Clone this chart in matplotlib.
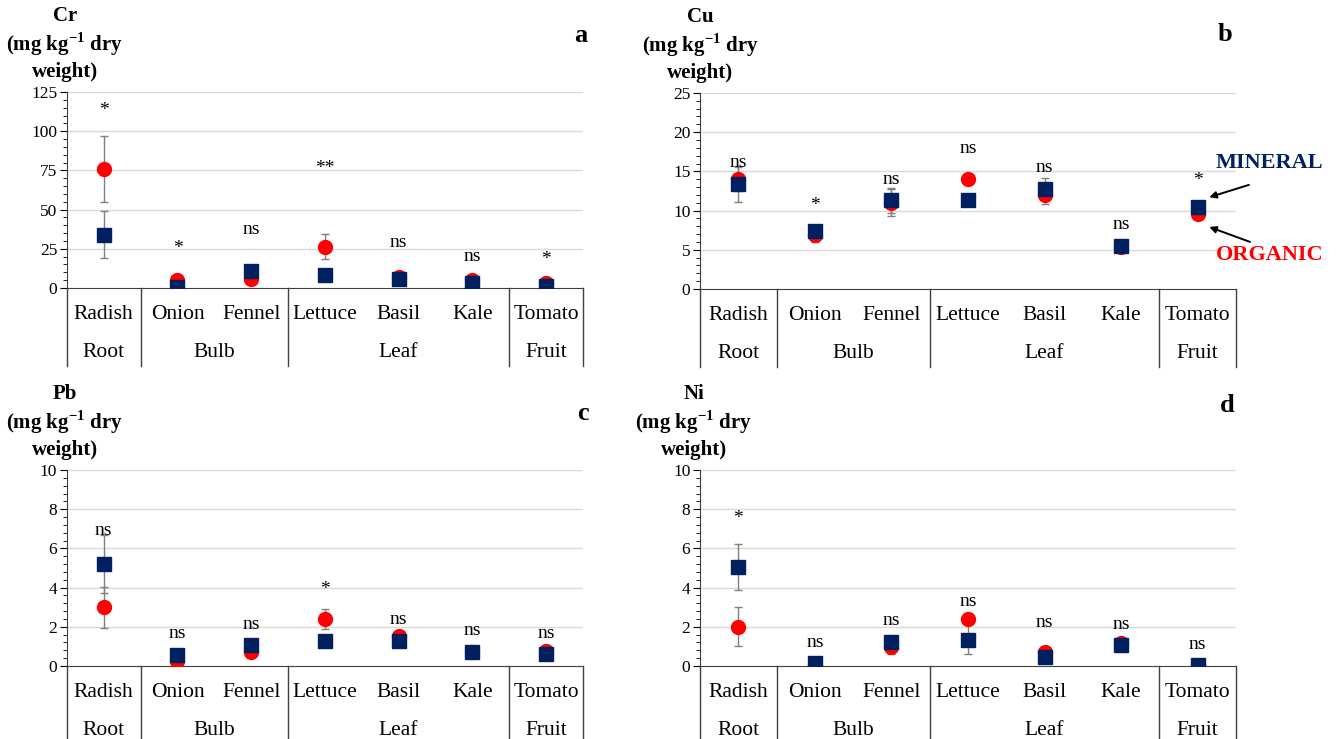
import numpy as np
import matplotlib.pyplot as plt
from matplotlib import transforms
from matplotlib.ticker import MultipleLocator

plt.rcParams['font.family'] = ['Liberation Serif', 'DejaVu Serif']
plt.rcParams['mathtext.fontset'] = 'custom'
plt.rcParams['mathtext.rm'] = 'Liberation Serif'
plt.rcParams['mathtext.bf'] = 'Liberation Serif:bold'

crops = ["Radish", "Onion", "Fennel", "Lettuce", "Basil", "Kale", "Tomato"]
groups = ["Root", "Bulb", "Leaf", "Fruit"]
group_sizes = [1, 2, 3, 1]

# Cr
cr_org = [76, 5, 6, 26.4, 7, 5, 3]
cr_org_err = [21, 0, 0, 8, 0, 0, 0]
cr_min = [34, 0.5, 11, 8, 6, 3, 1.5]
cr_min_err = [15, 0, 0, 0, 0, 0, 0]
cr_sig = ["*", "*", "ns", "**", "ns", "ns", "*"]
cr_sig_y = [113, 25, 37, 76, 29, 20, 18]

# Cu
cu_org = [14, 6.9, 11.0, 14.0, 12.0, 5.3, 9.5]
cu_org_err = [1.5, 0.9, 1.7, 0, 1.2, 0, 0]
cu_min = [13.4, 7.4, 11.3, 11.3, 12.8, 5.5, 10.5]
cu_min_err = [2.3, 0.5, 1.6, 0, 1.4, 0, 0]
cu_sig = ["ns", "*", "ns", "ns", "ns", "ns", "*"]
cu_sig_y = [16.1, 10.6, 13.9, 17.9, 15.5, 8.2, 13.8]

# Pb
pb_org = [3.0, 0.25, 0.7, 2.4, 1.55, 0.7, 0.75]
pb_org_err = [1.05, 0, 0, 0.5, 0, 0, 0]
pb_min = [5.2, 0.55, 1.05, 1.3, 1.25, 0.7, 0.6]
pb_min_err = [1.5, 0, 0.35, 0, 0, 0, 0]
pb_sig = ["ns", "ns", "ns", "*", "ns", "ns", "ns"]
pb_sig_y = [6.9, 1.65, 2.13, 3.88, 2.35, 1.79, 1.65]

# Ni
ni_org = [2.0, 0.05, 0.95, 2.4, 0.7, 1.15, 0.02]
ni_org_err = [1.0, 0, 0.35, 0, 0, 0, 0]
ni_min = [5.05, 0.15, 1.2, 1.35, 0.45, 1.05, 0.03]
ni_min_err = [1.15, 0, 0, 0.75, 0, 0, 0]
ni_sig = ["*", "ns", "ns", "ns", "ns", "ns", "ns"]
ni_sig_y = [7.5, 1.19, 2.3, 3.3, 2.2, 2.13, 1.1]

RED = "#FF0000"
NAVY = "#002060"


def draw_panel(ax, org, org_err, mn, mn_err, sig, sig_y, ymax, ymaj, ymin,
               elem, letter, letter_x, letter_y, title_x):
    x = np.arange(len(crops))
    # error bars first, markers over them
    ax.errorbar(x, org, yerr=org_err, fmt='none', ecolor='#7f7f7f',
                elinewidth=1, capsize=3, capthick=1, zorder=3)
    ax.errorbar(x, mn, yerr=mn_err, fmt='none', ecolor='#7f7f7f',
                elinewidth=1, capsize=3, capthick=1, zorder=3)
    ax.plot(x, org, 'o', color=RED, ms=10, mec=RED, zorder=4)
    ax.plot(x, mn, 's', color=NAVY, ms=9.5, mec=NAVY, zorder=5)

    for xi, s, yy in zip(x, sig, sig_y):
        ax.text(xi, yy, s, ha='center', va='center', fontsize=14)

    ax.set_xlim(-0.5, 6.5)
    ax.set_ylim(0, ymax)
    ax.yaxis.set_major_locator(MultipleLocator(ymaj))
    ax.yaxis.set_minor_locator(MultipleLocator(ymin))
    ax.set_xticks([])
    ax.tick_params(axis='y', which='major', direction='out', length=5,
                   labelsize=12.5, pad=2)
    ax.tick_params(axis='y', which='minor', direction='out', length=3)
    for yv in np.arange(ymaj, ymax + ymaj / 2, ymaj):
        ax.axhline(yv, color='#d9d9d9', lw=1, zorder=0)
    for sp in ['top', 'right']:
        ax.spines[sp].set_visible(False)
    ax.spines['left'].set_color('#404040')
    ax.spines['bottom'].set_color('#404040')
    ax.spines['bottom'].set_zorder(2)

    # category table below the axis
    trans = transforms.blended_transform_factory(ax.transData, ax.transAxes)
    for xi, c in zip(x, crops):
        ax.text(xi, -0.135, c, transform=trans, ha='center', va='center',
                fontsize=15.5)
    bounds = np.concatenate([[0], np.cumsum(group_sizes)]) - 0.5
    for b in bounds:
        ax.plot([b, b], [0, -0.4], transform=trans, color='#404040', lw=1,
                clip_on=False)
    for g, lo, hi in zip(groups, bounds[:-1], bounds[1:]):
        ax.text((lo + hi) / 2, -0.33, g, transform=trans, ha='center',
                va='center', fontsize=15.5)

    ax.text(title_x, 1.05, elem + "\n" + r"(mg kg$^{\mathbf{-1}}$ dry" + "\nweight)",
            transform=ax.transAxes, ha='center', va='bottom', fontsize=15,
            fontweight='bold', linespacing=1.25)
    ax.text(letter_x, letter_y, letter, transform=ax.transAxes, ha='center',
            va='center', fontsize=19, fontweight='bold')


fig = plt.figure(figsize=(13.36, 7.39), dpi=100)
ax_a = fig.add_axes([0.0501, 0.6103, 0.3862, 0.2652])
ax_b = fig.add_axes([0.5240, 0.6090, 0.4012, 0.2652])
ax_c = fig.add_axes([0.0501, 0.0988, 0.3862, 0.2652])
ax_d = fig.add_axes([0.5240, 0.0988, 0.4012, 0.2652])

draw_panel(ax_a, cr_org, cr_org_err, cr_min, cr_min_err, cr_sig, cr_sig_y,
           125, 25, 5, "Cr", "a", 0.996, 1.29, -0.004)
draw_panel(ax_b, cu_org, cu_org_err, cu_min, cu_min_err, cu_sig, cu_sig_y,
           25, 5, 1, "Cu", "b", 0.979, 1.30, 0.0)
draw_panel(ax_c, pb_org, pb_org_err, pb_min, pb_min_err, pb_sig, pb_sig_y,
           10, 2, 0.4, "Pb", "c", 1.0, 1.29, -0.004)
draw_panel(ax_d, ni_org, ni_org_err, ni_min, ni_min_err, ni_sig, ni_sig_y,
           10, 2, 0.4, "Ni", "d", 0.983, 1.33, -0.012)

# legend labels with arrows in panel b
ax_b.text(1.063, 0.643, "MINERAL", transform=ax_b.transAxes, ha='center',
          va='center', fontsize=16, fontweight='bold', color=NAVY)
ax_b.annotate("", xy=(6.15, 11.7), xycoords='data',
              xytext=(1.024, 0.531), textcoords='axes fraction',
              arrowprops=dict(arrowstyle='-|>', color='black', lw=1.4,
                              shrinkA=0, shrinkB=0),
              annotation_clip=False)
ax_b.text(1.063, 0.173, "ORGANIC", transform=ax_b.transAxes, ha='center',
          va='center', fontsize=16, fontweight='bold', color=RED)
ax_b.annotate("", xy=(6.15, 7.9), xycoords='data',
              xytext=(1.026, 0.24), textcoords='axes fraction',
              arrowprops=dict(arrowstyle='-|>', color='black', lw=1.4,
                              shrinkA=0, shrinkB=0),
              annotation_clip=False)

fig.savefig("out.png", dpi=100)
